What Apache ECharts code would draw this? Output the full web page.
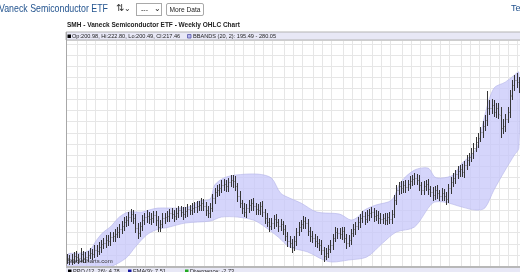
<!DOCTYPE html>
<html><head><meta charset="utf-8">
<script src="https://cdn.jsdelivr.net/npm/echarts@6/dist/echarts.min.js"></script>
<style>
html,body{margin:0;padding:0;background:#fff;overflow:hidden;}
#wrap{position:relative;width:520px;height:272px;font-family:"Liberation Sans",Arial,sans-serif;overflow:hidden;}
#chart{position:absolute;left:0;top:0;width:520px;height:272px;}
.t{position:absolute;white-space:nowrap;line-height:1;}
.sx{display:inline-block;transform-origin:0 0;}
.box{position:absolute;border:1px solid #a9a9a9;background:#fff;box-sizing:border-box;color:#222;white-space:nowrap;overflow:hidden;}
</style></head><body>
<div id="wrap">
<div id="chart"></div>
<div class="t" style="left:-1px;top:3px;font-size:11px;color:#23548f;"><span class="sx" style="transform:scaleX(0.80);">Vaneck Semiconductor ETF</span></div>
<div class="t" style="left:116px;top:3px;font-size:10px;color:#333;">⇅<span style="font-size:8px;">⌄</span></div>
<div class="box" style="left:136px;top:3px;width:26px;height:13px;font-size:7px;line-height:11px;padding-left:4px;">---<span style="position:absolute;left:17px;top:-1px;font-size:8px;">⌄</span></div>
<div class="box" style="left:166px;top:3px;width:38px;height:13px;border-radius:2px;text-align:center;font-size:6.6px;line-height:11px;">More Data</div>
<div class="t" style="left:511px;top:4px;font-size:9px;color:#23548f;">Te</div>
</div>
<script>
// ---- data (price units) ----
const closes = [
107.2,105.4,106.3,109.0,108.1,107.2,110.8,107.2,108.1,109.9,
111.7,110.8,114.4,113.5,117.1,119.8,120.7,123.4,122.5,126.1,
127.0,128.8,130.6,133.3,136.0,139.6,141.4,144.1,146.8,143.2,
134.2,129.7,136.0,141.4,144.1,145.0,142.3,143.2,145.9,141.4,
135.1,137.8,143.2,144.1,145.0,147.7,146.8,145.0,147.7,150.4,
148.6,146.8,149.5,151.3,150.4,152.2,153.1,154.0,154.9,156.7,
154.0,150.4,147.7,152.2,161.2,166.6,168.4,170.2,172.9,173.8,
172.0,175.6,177.4,176.5,172.0,163.0,156.7,152.2,148.6,152.2,
154.9,156.7,154.0,151.3,150.4,154.0,148.6,143.2,139.6,136.0,
138.7,142.3,139.6,136.0,137.8,133.3,127.0,122.5,120.7,117.1,
122.5,130.6,135.1,137.8,140.5,138.7,131.5,127.0,125.2,122.5,
120.7,118.9,114.4,109.0,111.7,115.3,118.9,125.2,130.6,129.7,
128.8,131.5,125.2,120.7,123.4,129.7,133.3,136.0,139.6,143.2,
145.0,142.3,145.9,147.7,148.6,145.0,145.9,143.2,142.3,143.2,
141.4,144.1,142.3,146.8,159.4,168.4,172.0,170.2,172.9,171.1,
173.8,176.5,178.3,179.2,177.4,172.9,168.4,172.0,173.8,169.3,
166.6,163.9,168.4,165.7,163.0,165.7,163.0,160.3,170.2,175.6,
179.2,182.8,185.5,187.3,184.6,190.9,195.4,198.1,201.7,206.2,
211.6,215.2,220.6,226.0,231.4,242.2,242.2,244.9,238.6,242.2,
236.6,224.2,226.0,232.6,238.6,253.5,262.9,267.4,265.6,262.0];
const opens = [
105.0,107.0,105.6,106.5,109.2,108.0,107.4,110.5,107.0,108.3,
110.0,111.9,110.6,114.6,113.3,117.4,119.6,120.9,123.6,122.3,
126.4,126.8,129.0,130.4,133.5,136.2,139.4,141.6,144.3,146.6,
143.0,134.0,129.9,136.2,141.2,144.3,145.2,142.1,143.4,145.7,
141.2,135.3,138.0,143.0,144.3,144.8,147.9,146.6,145.2,147.5,
150.6,148.4,147.0,149.3,151.5,150.2,152.4,152.9,154.2,154.7,
156.9,153.8,150.6,147.5,152.4,161.0,166.8,168.2,170.4,172.7,
174.0,171.8,175.8,177.2,176.7,171.8,163.2,156.5,152.4,148.4,
152.0,155.1,156.9,153.8,151.5,150.2,154.2,148.4,143.4,139.4,
136.2,138.5,142.5,139.4,136.2,137.6,133.1,127.2,122.3,120.9,
117.3,122.7,130.4,135.3,137.6,140.7,138.5,131.7,127.2,125.0,
122.7,120.5,119.1,114.2,109.2,111.5,115.5,118.7,125.4,130.8,
129.5,128.6,131.3,125.4,120.9,123.2,129.9,133.1,136.2,139.4,
143.4,145.2,142.1,146.1,147.5,148.8,144.8,146.1,143.0,142.5,
143.4,141.2,144.3,142.1,147.0,159.6,168.2,172.2,170.0,173.1,
170.9,174.0,176.3,178.5,179.0,177.6,172.7,168.6,171.8,174.0,
169.1,166.8,163.7,168.6,165.5,163.2,165.9,162.8,160.5,170.0,
175.8,179.0,183.0,185.3,187.5,184.4,191.1,195.2,198.3,201.5,
206.4,211.4,215.4,220.4,226.2,231.2,242.4,242.0,245.1,238.4,
242.4,236.4,224.4,225.8,232.8,238.4,253.7,263.1,267.2,265.8];
const highs = [
111.2,110.0,110.4,112.3,113.5,111.2,115.8,113.1,112.2,113.8,
116.1,115.7,118.9,119.0,121.8,123.1,125.6,127.9,127.7,130.5,
131.0,133.2,134.8,137.9,140.1,144.0,145.4,148.8,151.0,150.2,
146.9,138.5,139.6,145.8,147.6,150.2,148.3,148.1,149.4,149.8,
144.6,141.5,147.3,148.0,149.9,151.2,152.3,150.1,152.0,154.3,
154.2,152.9,153.2,156.1,155.0,156.8,157.4,158.9,158.8,161.0,
160.4,157.8,153.9,156.5,164.9,170.1,173.2,174.0,177.3,178.1,
177.9,179.0,182.2,181.6,180.7,175.0,167.3,159.8,156.6,155.9,
159.4,160.6,161.1,157.0,156.2,157.7,158.2,151.7,147.5,142.8,
143.2,145.9,146.6,142.5,142.6,140.8,137.1,130.4,127.2,124.0,
126.7,133.9,139.4,141.3,145.0,143.9,142.4,135.0,131.6,128.4,
127.1,124.3,123.2,117.3,116.3,119.0,123.4,128.4,134.7,134.6,
134.4,135.0,135.2,128.6,127.9,133.1,137.7,139.6,144.1,146.7,
149.7,148.6,150.2,151.6,153.3,151.9,150.6,149.3,147.7,147.0,
147.5,147.7,148.4,150.1,163.6,172.8,175.7,176.8,176.5,177.2,
177.4,181.1,182.0,184.1,182.7,181.7,175.9,176.5,177.5,178.0,
172.4,170.9,171.8,172.9,168.8,170.1,169.0,167.1,173.6,180.0,
183.7,186.3,190.1,191.4,191.8,194.4,200.0,202.0,206.3,210.9,
216.2,219.8,225.4,230.6,236.3,258.0,249.5,250.8,249.4,247.1,
246.4,243.0,232.0,237.0,243.4,258.2,268.0,272.4,273.9,270.6];
const lows = [
102.3,101.5,102.2,103.0,104.8,102.7,104.1,103.5,103.7,104.5,
106.8,106.4,108.0,108.8,110.8,113.0,116.0,116.8,118.5,118.5,
122.4,122.7,125.7,126.5,129.8,132.2,135.7,137.2,140.7,138.4,
130.7,125.3,127.0,132.3,137.8,139.8,138.3,138.1,140.0,136.9,
131.8,131.4,135.1,138.9,140.8,140.9,143.2,140.5,142.2,143.7,
145.1,142.4,143.8,145.2,146.8,146.4,148.9,148.8,150.7,150.7,
150.6,146.1,144.1,144.0,149.5,156.9,163.1,163.8,167.0,168.3,
167.8,167.9,172.1,171.4,168.5,158.9,153.1,147.7,144.7,144.5,
148.8,150.8,150.3,147.0,146.6,146.5,145.0,138.9,135.9,131.6,
133.0,134.6,136.1,131.7,132.8,128.9,123.5,118.2,117.1,112.6,
114.3,118.9,127.5,131.3,134.4,134.2,128.1,122.5,121.7,118.1,
117.0,114.4,110.9,104.8,106.2,107.7,112.4,114.9,122.3,125.2,
124.8,124.7,121.8,116.3,117.8,119.4,126.6,129.1,133.1,135.5,
139.8,137.9,139.2,141.8,144.0,140.7,141.2,138.8,138.7,138.3,
137.9,137.4,138.8,138.7,144.0,155.6,164.7,165.4,166.8,166.7,
168.1,170.0,173.1,174.0,173.7,168.6,164.8,164.7,168.3,165.0,
163.0,159.5,160.8,161.3,159.4,159.2,159.3,155.7,157.6,166.1,
172.5,175.0,179.7,181.2,181.1,180.6,187.7,191.0,194.9,197.6,
203.2,207.2,212.3,216.4,222.9,227.2,236.6,238.0,234.7,234.4,
233.0,216.0,219.8,221.5,229.4,234.5,250.2,258.6,261.2,256.9];

// Bollinger band (20,2) read at sample weeks
const bandUpIdx = [0,6,10,13,16,19,23,27,33,36,40,49,55,58,63,65,69,74,84,90,94,98,103,110,120,125,128,131,136,143,147,153,159,162,165,170,174,178,181,184,188,193,197,199];
const bandUp = [109.9,111.7,114.4,123.4,130.6,135.1,144.1,148.6,148.6,150.4,152.2,152.2,154.0,158.5,160.3,172.9,179.2,181.9,182.8,179.2,165.7,161.2,156.7,148.6,146.8,141.4,144.1,150.4,154.9,159.4,175.6,186.4,188.2,180.1,179.2,181.9,192.7,199.9,208.9,235.9,260.2,265.6,271.9,274.6];
const bandLoIdx = [0,11,19,26,30,35,39,45,52,63,68,75,82,86,93,98,106,113,117,124,132,139,145,153,161,166,174,180,184,188,193,197,199];
const bandLo = [82.9,94.6,99.1,107.2,117.1,127.9,132.4,135.1,138.7,140.5,144.1,144.1,141.4,136.9,126.1,117.1,112.6,105.4,103.6,105.4,108.1,120.7,130.6,135.1,156.7,157.6,153.1,150.4,152.2,168.4,186.4,199.9,206.2];

// weeks where a new month starts (vertical grid lines)
const monthStarts = [5,9,13,18,22,26,31,35,39,44,48,52,56,61,65,70,74,78,83,87,91,96,100,104,109,113,117,122,126,130,135,139,143,148,152,156,161,165,169,174,178,182,187,191,195,199];

const legendText = 'Op:200.98, Hi:222.80, Lo:200.49, Cl:217.46';
const bbText = 'BBANDS (20, 2): 195.49 - 280.05';
const chartTitle = 'SMH - Vaneck Semiconductor ETF - Weekly OHLC Chart';

// ---- chart ----
const weeks = closes.map((_, i) => String(i));
const ohlc = closes.map((c, i) => [i, opens[i], highs[i], lows[i], c]);
const N = closes.length;
const F = '"Liberation Sans", Arial, sans-serif';

const chart = echarts.init(document.getElementById('chart'), null, {renderer: 'canvas'});
const GL = 66, GT = 40, GW = 460, GB = 6;
chart.setOption({
  animation: false,
  backgroundColor: '#fff',
  grid: {left: GL, top: GT, width: GW, bottom: GB, containLabel: false},
  xAxis: [{
    type: 'category', data: weeks, boundaryGap: true,
    axisLine: {show: false}, axisTick: {show: false}, axisLabel: {show: false},
    splitLine: {show: true, interval: (idx) => monthStarts.indexOf(idx) >= 0, lineStyle: {color: '#e6e6e6', width: 1}}
  }, {
    type: 'value', min: -0.5, max: N - 0.5, show: false
  }],
  yAxis: {
    type: 'value', min: 100, max: 303.6, interval: 10,
    axisLine: {show: false}, axisTick: {show: false}, axisLabel: {show: false},
    splitLine: {show: true, lineStyle: {color: '#e6e6e6', width: 1}}
  },
  series: [{
    type: 'custom', xAxisIndex: 1, clip: true, z: 1,
    data: [[0]],
    renderItem: function (params, api) {
      const up = bandUpIdx.map((x, k) => api.coord([x, bandUp[k]]));
      const lo = bandLoIdx.map((x, k) => api.coord([x, bandLo[k]])).reverse();
      return {type: 'polygon', shape: {points: up.concat(lo), smooth: 0.3},
        style: {fill: 'rgba(200,200,250,0.76)', stroke: '#b4b4e8', lineWidth: 0.6}};
    }
  }, {
    type: 'custom', xAxisIndex: 0, clip: true, z: 3,
    data: ohlc, encode: {x: 0, y: [1, 2, 3, 4]},
    renderItem: function (params, api) {
      const i = api.value(0);
      const o = api.coord([i, api.value(1)]);
      const h = api.coord([i, api.value(2)]);
      const l = api.coord([i, api.value(3)]);
      const c = api.coord([i, api.value(4)]);
      const x = Math.round(o[0]) + 0.5;
      const st = {stroke: '#363636', lineWidth: 1};
      const tk = {stroke: '#8a8a8a', lineWidth: 1};
      return {type: 'group', children: [
        {type: 'line', shape: {x1: x, y1: Math.round(h[1]), x2: x, y2: Math.round(l[1]) + 1}, style: st},
        {type: 'line', shape: {x1: x - 1, y1: Math.round(o[1]) + 0.5, x2: x - 0.5, y2: Math.round(o[1]) + 0.5}, style: tk},
        {type: 'line', shape: {x1: x + 0.5, y1: Math.round(c[1]) + 0.5, x2: x + 1, y2: Math.round(c[1]) + 0.5}, style: tk}
      ]};
    }
  }],
  graphic: [
    {type: 'text', x: 67, y: 21.5, style: {text: chartTitle, font: 'bold 6.5px ' + F, fill: '#222'}},
    {type: 'rect', shape: {x: GL, y: 32, width: GW, height: 8}, style: {fill: '#e8e8f6', stroke: '#b4b4b4', lineWidth: 1}, z: 10},
    {type: 'rect', shape: {x: 67.5, y: 34.5, width: 3.5, height: 3.5}, style: {fill: '#000'}, z: 11},
    {type: 'text', x: 72, y: 33.4, style: {text: legendText, font: '5.6px ' + F, fill: '#222'}, z: 11},
    {type: 'rect', shape: {x: 187.5, y: 34.5, width: 3.5, height: 3.5}, style: {fill: '#b8b8ee', stroke: '#5555aa', lineWidth: 0.8}, z: 11},
    {type: 'text', x: 193, y: 33.4, style: {text: bbText, font: '5.6px ' + F, fill: '#222'}, z: 11},
    {type: 'line', shape: {x1: GL + 0.5, y1: 32, x2: GL + 0.5, y2: 268}, style: {stroke: '#a8a8a8', lineWidth: 1}, z: 10},
    {type: 'rect', shape: {x: GL, y: 266, width: GW, height: 2}, style: {fill: '#b8b8b8'}, z: 10},
    {type: 'rect', shape: {x: GL, y: 268, width: GW, height: 8}, style: {fill: '#e8e8f6'}, z: 10},
    {type: 'rect', shape: {x: 68, y: 269.5, width: 3.5, height: 3.5}, style: {fill: '#000'}, z: 11},
    {type: 'text', x: 73, y: 268.8, style: {text: 'PPO (12, 26): 4.78', font: '5.6px ' + F, fill: '#222'}, z: 11},
    {type: 'rect', shape: {x: 128, y: 269.5, width: 3.5, height: 3.5}, style: {fill: '#1a1aa0'}, z: 11},
    {type: 'text', x: 133, y: 268.8, style: {text: 'EMA(9): 7.51', font: '5.6px ' + F, fill: '#222'}, z: 11},
    {type: 'rect', shape: {x: 185, y: 269.5, width: 3.5, height: 3.5}, style: {fill: '#22aa22'}, z: 11},
    {type: 'text', x: 190, y: 268.8, style: {text: 'Divergence: -2.73', font: '5.6px ' + F, fill: '#222'}, z: 11},
    {type: 'text', x: 67, y: 258.5, style: {text: 'StockCharts.com', font: '6px ' + F, fill: '#333'}, z: 5}
  ]
});
</script>
</body></html>
